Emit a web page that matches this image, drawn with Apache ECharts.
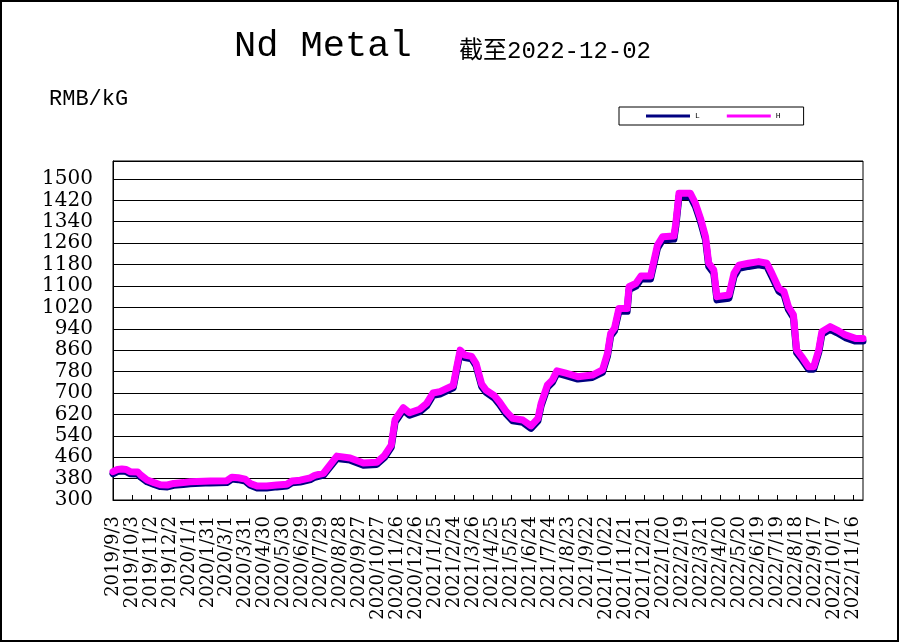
<!DOCTYPE html>
<html>
<head>
<meta charset="utf-8">
<script src="https://cdn.jsdelivr.net/npm/echarts@6/dist/echarts.min.js"></script>
<style>
html,body{margin:0;padding:0;background:#fff;}
#chart{width:900px;height:643px;}
</style>
</head>
<body>
<div id="chart"></div>
<script>
const dates = [
"2019-09-03","2019-09-10","2019-09-17","2019-09-24","2019-09-30","2019-10-12","2019-10-17","2019-10-27",
"2019-11-07","2019-11-17","2019-11-28","2019-12-08","2019-12-23","2020-01-03","2020-02-04","2020-03-01",
"2020-03-09","2020-03-19","2020-03-30","2020-04-07","2020-04-18","2020-05-03","2020-05-19","2020-06-04",
"2020-06-12","2020-06-25","2020-07-11","2020-07-18","2020-08-01","2020-08-22","2020-09-12","2020-10-03",
"2020-10-24","2020-11-05","2020-11-16","2020-11-22","2020-12-05","2020-12-15","2020-12-31","2021-01-11",
"2021-01-21","2021-02-01","2021-02-22","2021-02-27","2021-03-05","2021-03-12","2021-03-23","2021-03-30",
"2021-04-08","2021-04-15","2021-04-28","2021-05-06","2021-05-17","2021-05-27","2021-06-12","2021-06-25",
"2021-07-06","2021-07-11","2021-07-21","2021-07-29","2021-08-05","2021-08-19","2021-09-07","2021-09-30",
"2021-10-16","2021-10-24","2021-10-29","2021-11-04","2021-11-11","2021-11-24","2021-11-27","2021-12-08",
"2021-12-16","2021-12-31","2022-01-11","2022-01-19","2022-02-06","2022-02-09","2022-02-14","2022-03-04",
"2022-03-12","2022-03-20","2022-03-28","2022-04-02","2022-04-10","2022-04-15","2022-05-04","2022-05-12",
"2022-05-20","2022-06-04","2022-06-20","2022-07-03","2022-07-11","2022-07-22","2022-07-30","2022-08-06",
"2022-08-14","2022-08-19","2022-08-27","2022-09-07","2022-09-15","2022-09-23","2022-09-28","2022-10-11",
"2022-10-22","2022-11-04","2022-11-20","2022-12-02"
];
const highVals = [
406,414,416,414,406,405,393,375,
365,357,356,362,365,368,371,372,
385,383,378,362,352,352,356,359,
371,374,383,392,400,464,457,438,
441,466,505,600,645,626,639,661,
700,705,728,790,860,842,837,811,
733,711,690,667,630,605,599,577,
605,661,730,749,783,774,761,767,
786,848,923,942,1016,1016,1097,1110,
1137,1137,1253,1284,1287,1334,1446,1446,
1409,1353,1284,1185,1160,1060,1066,1147,
1178,1185,1191,1185,1147,1091,1079,1023,
992,861,836,798,798,861,929,948,
935,917,904,904
];
const lowVals = [
398,406,408,406,398,397,385,368,
358,350,349,355,358,361,364,365,
378,376,371,355,345,345,349,352,
364,367,376,385,393,455,449,430,
433,458,497,590,636,617,630,652,
691,696,719,780,850,832,828,802,
724,702,681,658,621,596,590,568,
596,652,721,740,774,765,752,758,
777,838,913,932,1005,1005,1086,1099,
1126,1126,1241,1272,1275,1322,1434,1434,
1397,1341,1272,1173,1148,1048,1054,1135,
1166,1173,1179,1173,1135,1080,1068,1012,
982,851,826,789,789,851,919,938,
925,907,894,894
];
const seriesNames = ["L","H"];
const startDate = "2019-09-03";
const endDate = "2022-12-02";
const yTicks = [300,380,460,540,620,700,780,860,940,1020,1100,1180,1260,1340,1420,1500];

function dayOf(s){
  const p = s.split("-").map(Number);
  const b = startDate.split("-").map(Number);
  return Math.round((Date.UTC(p[0],p[1]-1,p[2]) - Date.UTC(b[0],b[1]-1,b[2]))/86400000);
}
function labelOf(d){
  const b = startDate.split("-").map(Number);
  const t = new Date(Date.UTC(b[0],b[1]-1,b[2]) + d*86400000);
  return t.getUTCFullYear() + "/" + (t.getUTCMonth()+1) + "/" + t.getUTCDate();
}
const maxDay = dayOf(endDate);
const lowData = dates.map((d,i)=>[dayOf(d), lowVals[i]]);
const highData = dates.map((d,i)=>[dayOf(d), highVals[i]]);

const chart = echarts.init(document.getElementById('chart'), null, {renderer:'canvas'});
chart.setOption({
  animation:false,
  backgroundColor:'#fff',
  graphic:[
    {type:'rect', shape:{x:1,y:1,width:897,height:640}, style:{fill:'none', stroke:'#000', lineWidth:2}, z:100},
    {type:'text', left:234, top:28, style:{text:'Nd Metal', font:'37px "Liberation Mono", monospace', fill:'#000'}},
    {type:'text', left:459, top:40, style:{text:'截至2022-12-02', font:'24px "Liberation Mono", "Noto Sans CJK SC", monospace', fill:'#000'}},
    {type:'text', left:49, top:88, style:{text:'RMB/kG', font:'22px "Liberation Mono", monospace', fill:'#000'}}
  ],
  legend:{
    data:seriesNames,
    left:619, top:107,
    orient:'horizontal',
    icon:'rect',
    itemWidth:44, itemHeight:3, itemGap:27,
    padding:[5,23,5,27],
    borderColor:'#000', borderWidth:1,
    textStyle:{fontSize:8, fontFamily:'"Liberation Mono", monospace', color:'#000'}
  },
  grid:{left:113, top:161, width:750, height:339, show:true, borderColor:'#000', borderWidth:1, backgroundColor:'#fff'},
  xAxis:{
    type:'value', min:0, max:maxDay, interval:30,
    axisLine:{show:true, lineStyle:{color:'#000', width:1}},
    axisTick:{show:true, inside:true, length:5, lineStyle:{color:'#000'}},
    splitLine:{show:false},
    axisLabel:{
      rotate:90, margin:16, showMaxLabel:false, showMinLabel:true,
      fontFamily:'"DejaVu Serif", serif', fontSize:18, color:'#000',
      formatter:function(v){ return labelOf(v); }
    }
  },
  yAxis:{
    type:'value', min:300, max:1567, interval:80,
    axisLine:{show:true, lineStyle:{color:'#000'}},
    axisTick:{show:false},
    splitLine:{show:true, lineStyle:{color:'#000', width:1}},
    axisLabel:{
      margin:20, showMaxLabel:false,
      fontFamily:'"DejaVu Serif", serif', fontSize:20, color:'#000',
      formatter:function(v){ return yTicks.indexOf(v) >= 0 ? String(v) : ''; }
    }
  },
  series:[
    {name:seriesNames[0], type:'line', data:lowData, symbol:'none', color:'#000080',
     lineStyle:{color:'#000080', width:7, cap:'round', join:'round'}, z:2},
    {name:seriesNames[1], type:'line', data:highData, symbol:'none', color:'#FF00FF',
     lineStyle:{color:'#FF00FF', width:7, cap:'round', join:'round'}, z:3}
  ]
});
</script>
</body>
</html>
